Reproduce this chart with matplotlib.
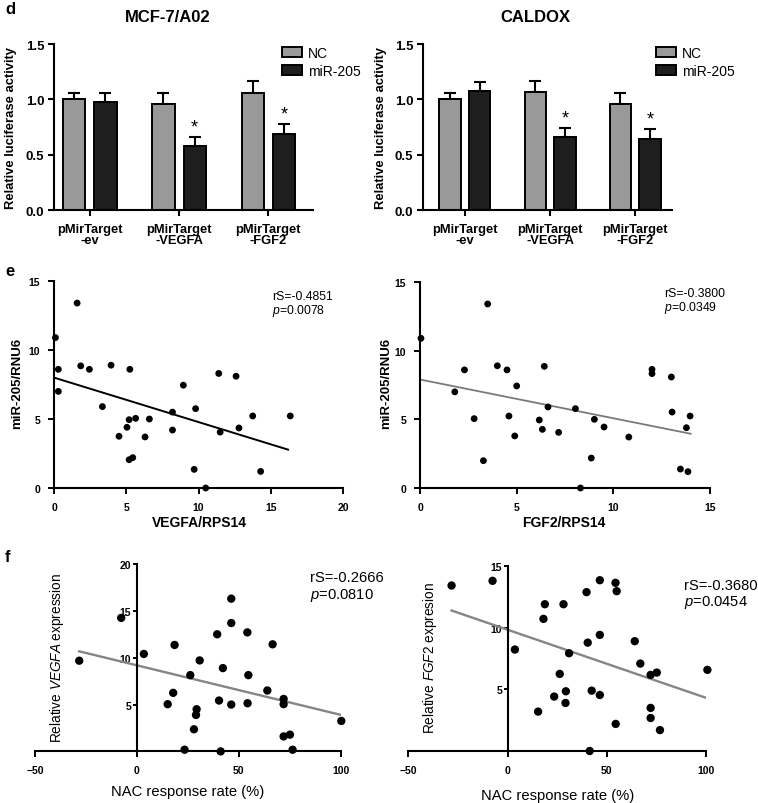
import numpy as np
import matplotlib
matplotlib.use("Agg")
import matplotlib.pyplot as plt
from matplotlib.patches import Patch

plt.rcParams['font.family'] = ['Liberation Sans', 'DejaVu Sans']
plt.rcParams['mathtext.fontset'] = 'custom'
plt.rcParams['mathtext.rm'] = 'Liberation Sans'
plt.rcParams['mathtext.it'] = 'Liberation Sans:italic'
plt.rcParams['mathtext.bf'] = 'Liberation Sans:bold'

# ---------------- data ----------------
groups = ['pMirTarget\n-ev', 'pMirTarget\n-VEGFA', 'pMirTarget\n-FGF2']
series = ['NC', 'miR-205']

mcf_nc = [1.00, 0.96, 1.06]
mcf_nc_err = [0.06, 0.10, 0.11]
mcf_mir = [0.98, 0.58, 0.69]
mcf_mir_err = [0.08, 0.08, 0.09]

cal_nc = [1.00, 1.07, 0.96]
cal_nc_err = [0.06, 0.10, 0.10]
cal_mir = [1.075, 0.66, 0.64]
cal_mir_err = [0.085, 0.085, 0.095]
sig_groups = [1, 2]

e1_x = [0.1, 1.6, 0.3, 0.3, 1.85, 2.45, 3.95, 5.25, 3.35, 4.5, 5.05, 5.2, 5.65, 6.3, 6.6,
        8.2, 8.2, 8.95, 9.8, 11.4, 11.5, 12.6, 12.8, 13.75, 16.35, 5.2, 5.45, 9.7, 14.3, 10.5]
e1_y = [10.9, 13.4, 8.6, 7.0, 8.85, 8.6, 8.9, 8.6, 5.9, 3.75, 4.4, 4.95, 5.05, 3.7, 5.0,
        4.2, 5.5, 7.45, 5.75, 8.3, 4.05, 8.1, 4.35, 5.22, 5.22, 2.05, 2.2, 1.35, 1.2, 0.0]
e1_fit_x = [0.0, 16.2]
e1_fit_y = [8.0, 2.78]

e2_x = [0.05, 3.5, 2.3, 1.8, 2.8, 4.0, 4.5, 5.0, 4.6, 4.9, 6.43, 6.62, 6.17, 6.33, 7.17,
        8.04, 9.02, 9.52, 10.8, 12.0, 12.0, 13.0, 13.04, 13.97, 13.78, 3.28, 8.86, 13.47, 13.86, 8.3]
e2_y = [10.9, 13.4, 8.6, 7.0, 5.05, 8.9, 8.6, 7.43, 5.24, 3.79, 8.86, 5.9, 4.95, 4.27, 4.05,
        5.78, 5.0, 4.44, 3.71, 8.64, 8.33, 8.08, 5.53, 5.24, 4.39, 1.99, 2.18, 1.38, 1.19, 0.0]
e2_fit_x = [0.0, 14.0]
e2_fit_y = [7.9, 3.95]

f1_x = [-28.3, -7.7, 3.4, 18.5, 17.8, 15.1, 26.2, 30.8, 29.3, 29.0, 28.0, 23.4, 39.4, 42.2, 40.3,
        41.1, 46.3, 46.3, 46.3, 54.2, 54.7, 54.3, 64.0, 66.6, 72.0, 72.0, 72.0, 75.1, 76.4, 100.3]
f1_y = [9.68, 14.25, 10.4, 11.36, 6.25, 5.04, 8.14, 9.71, 4.5, 3.89, 2.36, 0.18, 12.5, 8.89, 5.43,
        0.0, 16.3, 13.7, 5.0, 12.7, 8.14, 5.14, 6.5, 11.43, 5.6, 5.04, 1.6, 1.79, 0.18, 3.25]
f1_fit_x = [-28.3, 100.2]
f1_fit_y = [10.68, 3.89]

f2_x = [-28.2, -7.55, 3.7, 15.4, 18.1, 18.8, 23.5, 26.3, 28.2, 29.4, 29.2, 31.0, 39.8, 40.4, 42.4,
        41.4, 46.5, 46.5, 46.5, 54.4, 55.0, 54.5, 64.1, 66.9, 72.1, 75.2, 72.1, 72.1, 76.8, 100.7]
f2_y = [13.44, 13.82, 8.24, 3.2, 10.73, 11.92, 4.42, 6.26, 11.92, 4.85, 3.9, 7.94, 12.9, 8.8, 4.9,
        0.0, 13.87, 9.43, 4.55, 13.66, 12.98, 2.2, 8.92, 7.1, 6.18, 6.37, 3.5, 2.68, 1.7, 6.59]
f2_fit_x = [-28.2, 100.7]
f2_fit_y = [11.41, 4.28]

stats = {'e1': ('-0.4851', '0.0078'), 'e2': ('-0.3800', '0.0349'),
         'f1': ('-0.2666', '0.0810'), 'f2': ('-0.3680', '0.0454')}

# ---------------- layout helpers ----------------
W, H = 758, 804
fig = plt.figure(figsize=(W / 100, H / 100), dpi=100)
fig.patch.set_facecolor('white')


def add_ax(l, r, t, b):
    return fig.add_axes([l / W, 1 - b / H, (r - l) / W, (b - t) / H])


def ftext(x, y, s, **kw):
    return fig.text(x / W, 1 - y / H, s, **kw)


def style_spines(ax, lw=1.5):
    for s in ['top', 'right']:
        ax.spines[s].set_visible(False)
    for s in ['left', 'bottom']:
        ax.spines[s].set_linewidth(lw)
        ax.spines[s].set_color('black')


GRAY = '#999999'
DARK = '#1e1e1e'


# ---------------- panel d ----------------
def bar_panel(l, r, xlim, nc, nc_err, mir, mir_err, title, title_x, ylab_x, leg_x):
    ax = add_ax(l, r, 45, 211)
    x = np.arange(len(groups))
    off, w = 0.175, 0.25
    ax.bar(x - off, nc, w, color=GRAY, edgecolor='black', linewidth=1.4, zorder=2)
    ax.bar(x + off, mir, w, color=DARK, edgecolor='black', linewidth=1.4, zorder=2)
    ax.errorbar(x - off, nc, yerr=[np.zeros(3), nc_err], fmt='none', ecolor='black',
                elinewidth=1.5, capsize=4.3, capthick=1.5, zorder=1)
    ax.errorbar(x + off, mir, yerr=[np.zeros(3), mir_err], fmt='none', ecolor='black',
                elinewidth=1.5, capsize=4.3, capthick=1.5, zorder=1)
    for i in sig_groups:
        ax.text(x[i] + off, mir[i] + mir_err[i] + 0.01, '*', ha='center', va='bottom',
                fontsize=13)
    ax.set_xlim(*xlim)
    ax.set_ylim(0, 1.5)
    ax.set_yticks([0, 0.5, 1.0, 1.5])
    ax.set_yticklabels(['0.0', '0.5', '1.0', '1.5'], fontweight='bold', fontsize=9.5)
    ax.set_xticks(x)
    ax.set_xticklabels(groups, fontweight='bold', fontsize=9.3, linespacing=1.0)
    ax.tick_params(axis='y', direction='out', length=4, width=1.5, pad=3)
    ax.tick_params(axis='x', direction='out', length=4, width=1.5, pad=5)
    style_spines(ax)
    ftext(title_x, 18, title, ha='center', va='center', fontweight='bold', fontsize=12)
    ftext(ylab_x, 128, 'Relative luciferase activity', ha='center', va='center',
          rotation=90, fontweight='bold', fontsize=9.4)
    handles = [Patch(facecolor=GRAY, edgecolor='black', linewidth=1.4, label=series[0]),
               Patch(facecolor=DARK, edgecolor='black', linewidth=1.4, label=series[1])]
    ax.legend(handles=handles, loc='upper left', bbox_to_anchor=(leg_x / W, 1 - 47 / H),
              bbox_transform=fig.transFigure, frameon=False, fontsize=10,
              handlelength=1.45, handleheight=0.75, handletextpad=0.4,
              labelspacing=0.3, borderpad=0, borderaxespad=0)
    return ax


bar_panel(54, 313, (-0.40, 2.50), mcf_nc, mcf_nc_err, mcf_mir, mcf_mir_err,
          'MCF-7/A02', 168, 11, 282)
bar_panel(423, 672, (-0.494, 2.435), cal_nc, cal_nc_err, cal_mir, cal_mir_err,
          'CALDOX', 535, 381, 656)


# ---------------- panel e ----------------
def scatter_e(l, r, t, b, xs, ys, fx, fy, xmax, xticks, line_color, line_w, key,
              xlabel, xlab_x, ylab_x, st_x, st_y):
    ax = add_ax(l, r, t, b)
    ax.scatter(xs, ys, s=24, color='black', edgecolors='none', clip_on=False, zorder=3)
    ax.plot(fx, fy, color=line_color, lw=line_w, zorder=2)
    ax.set_xlim(0, xmax)
    ax.set_ylim(0, 15)
    ax.set_xticks(xticks)
    ax.set_yticks([0, 5, 10, 15])
    for lab in ax.get_xticklabels() + ax.get_yticklabels():
        lab.set_fontweight('bold')
        lab.set_fontsize(7.5)
    ax.tick_params(direction='out', length=4, width=1.4, pad=6)
    style_spines(ax, 1.5)
    ftext(xlab_x, 523, xlabel, ha='center', va='center', fontweight='bold', fontsize=10)
    ftext(ylab_x, 383, 'miR-205/RNU6', ha='center', va='center', rotation=90,
          fontweight='bold', fontsize=9.5)
    rs, p = stats[key]
    ftext(st_x, st_y, 'rS=' + rs, ha='left', va='center', fontsize=8.8)
    ftext(st_x, st_y + 14, r'$\mathit{p}$=' + p, ha='left', va='center', fontsize=8.8)
    return ax


scatter_e(54, 343, 282, 489, e1_x, e1_y, e1_fit_x, e1_fit_y, 20, [0, 5, 10, 15, 20],
          'black', 1.4, 'e1', 'VEGFA/RPS14', 199, 17, 272, 297)
scatter_e(420, 710, 283, 489, e2_x, e2_y, e2_fit_x, e2_fit_y, 15, [0, 5, 10, 15],
          '#7a7a7a', 1.3, 'e2', 'FGF2/RPS14', 564, 386, 664, 294)


# ---------------- panel f ----------------
def scatter_f(l, r, t, b, xs, ys, fx, fy, ymax, yticks, key, ylabel, ylab_x, xlab_y,
              st_x, st_y):
    ax = add_ax(l, r, t, b)
    ax.scatter(xs, ys, s=36, color='black', edgecolors='none', clip_on=False, zorder=3)
    ax.plot(fx, fy, color='#858585', lw=1.7, zorder=2)
    ax.set_xlim(-50, 100)
    ax.set_ylim(0, ymax)
    ax.spines['left'].set_position(('data', 0))
    ax.set_xticks([-50, 0, 50, 100])
    ax.set_yticks(yticks)
    for lab in ax.get_xticklabels() + ax.get_yticklabels():
        lab.set_fontweight('bold')
        lab.set_fontsize(7.5)
    ax.tick_params(axis='x', direction='out', length=4, width=1.4, pad=6)
    ax.tick_params(axis='y', direction='out', length=3, width=1.4, pad=1)
    style_spines(ax, 1.5)
    ftext((l + r) / 2, xlab_y, 'NAC response rate (%)', ha='center', va='center',
          fontsize=10.6)
    ftext(ylab_x, 658, ylabel, ha='center', va='center', rotation=90, fontsize=9.8)
    rs, p = stats[key]
    ftext(st_x, st_y, 'rS=' + rs, ha='left', va='center', fontsize=10.6)
    ftext(st_x, st_y + 17, r'$\mathit{p}$=' + p, ha='left', va='center', fontsize=10.6)
    return ax


scatter_f(35, 340.7, 565, 752.4, f1_x, f1_y, f1_fit_x, f1_fit_y, 20, [5, 10, 15, 20], 'f1',
          r'Relative $\mathit{VEGFA}$ expression', 57, 792, 310, 578)
scatter_f(408.3, 706, 567.3, 752, f2_x, f2_y, f2_fit_x, f2_fit_y, 15, [5, 10, 15], 'f2',
          r'Relative $\mathit{FGF2}$ expresion', 430, 796, 684, 586)

# panel letters
ftext(5, 10, 'd', ha='left', va='center', fontweight='bold', fontsize=12)
ftext(5, 272, 'e', ha='left', va='center', fontweight='bold', fontsize=12)
ftext(5, 558, 'f', ha='left', va='center', fontweight='bold', fontsize=12)

fig.savefig('out.png', dpi=100, facecolor='white')
